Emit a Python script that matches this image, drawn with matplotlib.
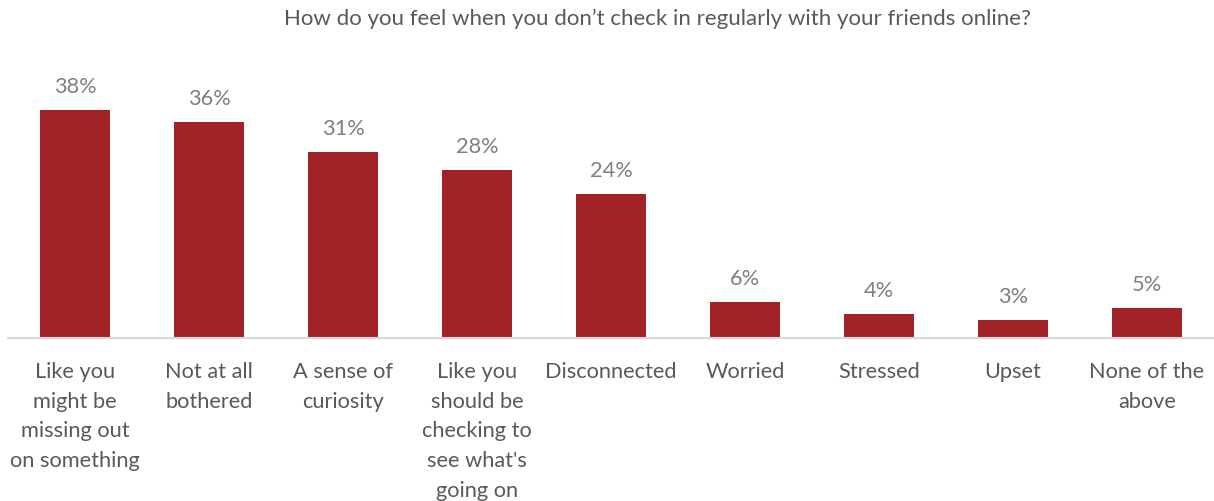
import matplotlib.pyplot as plt

plt.rcParams['font.family'] = ['Lato', 'DejaVu Sans']

categories = [
    "Like you\nmight be\nmissing out\non something",
    "Not at all\nbothered",
    "A sense of\ncuriosity",
    "Like you\nshould be\nchecking to\nsee what's\ngoing on",
    "Disconnected",
    "Worried",
    "Stressed",
    "Upset",
    "None of the\nabove",
]
values = [38, 36, 31, 28, 24, 6, 4, 3, 5]

fig = plt.figure(figsize=(12.14, 5.01), dpi=100)
ax = fig.add_axes([0.0066, 0.3253, 0.9934, 0.4791])

x = range(len(values))
bars = ax.bar(x, values, width=0.52, color='#A12327', zorder=2)
for b, v in zip(bars, values):
    ax.text(b.get_x() + b.get_width() / 2, v + 2.2, f"{v}%",
            ha='center', va='bottom', fontsize=15.7, color='#7F7F7F')

ax.set_xlim(-0.5, len(values) - 0.5)
ax.set_ylim(0, 40)
ax.set_yticks([])
ax.set_xticks(list(x))
ax.set_xticklabels(categories, fontsize=15.7, color='#595959', linespacing=1.62)
ax.tick_params(axis='x', length=0, pad=17)
for s in ['top', 'right', 'left']:
    ax.spines[s].set_visible(False)
ax.spines['bottom'].set_color('#D9D9D9')
ax.spines['bottom'].set_linewidth(1.5)

fig.text(0.542, 0.963, "How do you feel when you don\u2019t check in regularly with your friends online?",
         ha='center', va='center', fontsize=16, color='#595959')

fig.savefig('out.png', dpi=100)
